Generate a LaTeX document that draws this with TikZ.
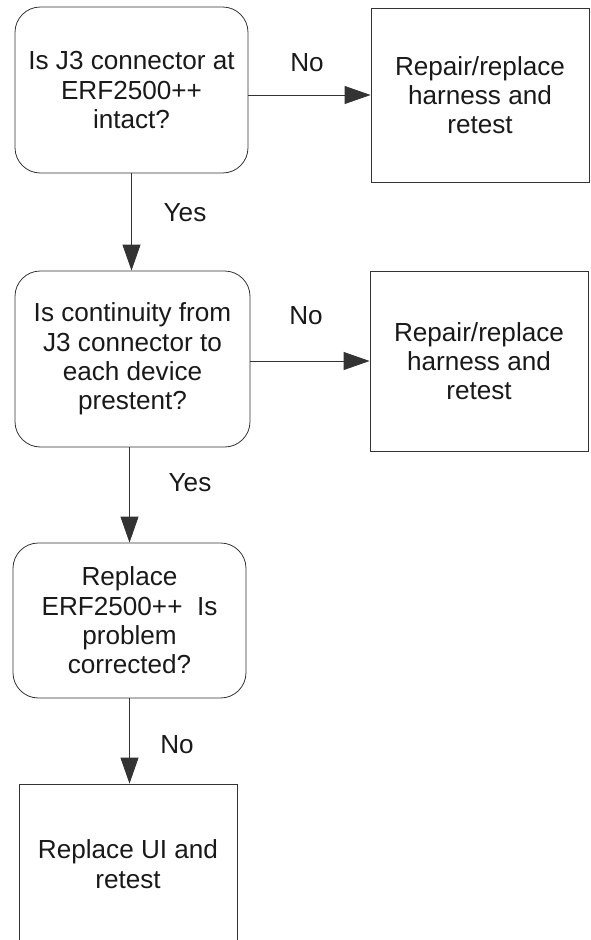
\documentclass[tikz,border=0pt]{standalone}
\usepackage{fontspec}
\setmainfont{Liberation Sans}
\usetikzlibrary{arrows.meta}

\begin{document}
\begin{tikzpicture}[x=0.75pt, y=-0.75pt,
        q/.style={draw=black!80, line width=.6pt, rounded corners=19pt, align=center,
          inner sep=0pt, font=\fontsize{19.6}{22}\selectfont, text=black!90},
        r/.style={q, sharp corners},
        arr/.style={draw=black!80, line width=.6pt, -{Triangle[length=19.5pt, width=13.5pt]}},
        lbl/.style={font=\fontsize{19.6}{22}\selectfont, text=black!90}]

      \useasboundingbox (0,0) rectangle (590,940);

      % q1: J3 connector
      \node[q, minimum width=174.75pt, minimum height=124.5pt] (q1) at (131.5,90)
        {Is J3 connector at\\ERF2500++\\intact?};
      \node[r, minimum width=163.5pt, minimum height=130.5pt] (r1) at (480,95)
        {Repair/replace\\harness and\\retest};
      \node[lbl] (no1) at (307,63) {No};

      % q2: continuity
      \node[q, minimum width=176.25pt, minimum height=132pt] (q2) at (132.5,359)
        {Is continuity from\\J3 connector to\\each device\\prestent?};
      \node[r, minimum width=163.5pt, minimum height=135pt] (r2) at (479,361)
        {Repair/replace\\harness and\\retest};
      \node[lbl] (yes1) at (185,213) {Yes};
      \node[lbl] (no2) at (306,316) {No};

      % q3: replace ERF2500++
      \node[q, minimum width=174.75pt, minimum height=116.25pt] (q3) at (129.5,620.5)
        {Replace\\ERF2500++\ \ Is\\problem\\corrected?};
      \node[lbl] (yes2) at (190,483) {Yes};

      % r3: replace UI (runs off the page)
      \node[r, minimum width=163.5pt, minimum height=120pt] (r3) at (128,864)
        {Replace UI and\\retest};
      \node[lbl] (no3) at (177,745) {No};

      \draw[arr] (q1.east |- r1.west) -- (r1.west);
      \draw[arr] (q2.east |- r2.west) -- (r2.west);
      \draw[arr] (q1.south) -- (q1.south |- q2.north);
      \draw[arr] (q3.north |- q2.south) -- (q3.north);
      \draw[arr] (q3.south) -- (q3.south |- r3.north);
    \end{tikzpicture}
\end{document}
